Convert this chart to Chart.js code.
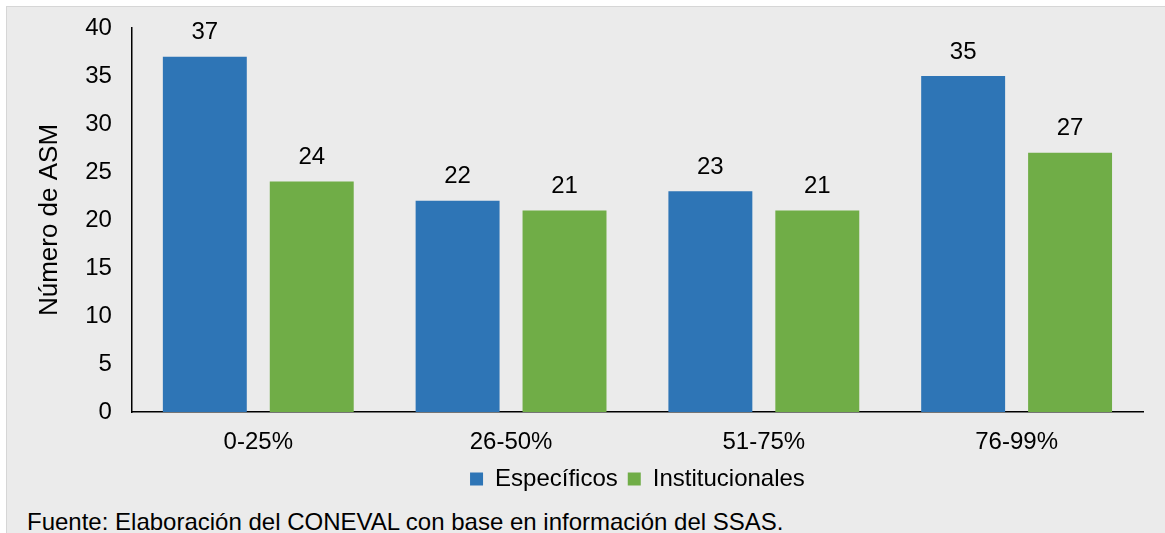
<!DOCTYPE html>
<html>
<head>
<meta charset="utf-8">
<script src="https://cdn.jsdelivr.net/npm/chart.js@4.4.1/dist/chart.umd.min.js"></script>
<style>
  html, body { margin: 0; padding: 0; background: #ffffff; }
  #frame {
    position: absolute; left: 6px; top: 6px; width: 1159px; height: 527px;
    background: #ebebeb; border-top: 1px solid #d6d6d6; border-left: 1px solid #d6d6d6;
  }
  #wrap { position: absolute; left: -7px; top: -7px; width: 1165px; height: 501px; }
  #nota {
    position: absolute; left: 20px; top: 501px; line-height: 1.15;
    font-family: "Liberation Sans", Arial, sans-serif; font-size: 24px; color: #000;
  }
</style>
</head>
<body>
<div id="frame">
  <div id="wrap"><canvas id="grafica"></canvas></div>
  <div id="nota">Fuente: Elaboración del CONEVAL con base en información del SSAS.</div>
</div>
<script>
// datos
const rangos = ['0-25%', '26-50%', '51-75%', '76-99%'];
const especificos = [37, 22, 23, 35];
const institucionales = [24, 21, 21, 27];
const ticksY = [0, 5, 10, 15, 20, 25, 30, 35, 40];

Chart.defaults.font.family = '"Liberation Sans", Arial, sans-serif';
Chart.defaults.font.size = 24;
Chart.defaults.color = '#000';

// etiquetas de valor encima de cada barra
const etiquetasBarras = {
    id: 'etiquetasBarras',
    afterDatasetsDraw(chart) {
        const ctx = chart.ctx;
        ctx.save();
        ctx.font = '24px "Liberation Sans", Arial, sans-serif';
        ctx.fillStyle = '#000';
        ctx.textAlign = 'center';
        ctx.textBaseline = 'middle';
        chart.data.datasets.forEach((ds, i) => {
            chart.getDatasetMeta(i).data.forEach((bar, j) => {
                ctx.fillText(ds.data[j], bar.x, bar.y - 24);
            });
        });
        ctx.restore();
    }
};

new Chart(document.getElementById('grafica'), {
    type: 'bar',
    data: {
        labels: rangos,
        datasets: [
            { label: 'Específicos', data: especificos, backgroundColor: '#2e75b6' },
            { label: 'Institucionales', data: institucionales, backgroundColor: '#70ad47' }
        ]
    },
    options: {
        responsive: true,
        maintainAspectRatio: false,
        animation: false,
        categoryPercentage: 0.846,
        barPercentage: 0.785,
        layout: { padding: { top: 28, right: 22, left: 34, bottom: 0 } },
        plugins: {
            legend: {
                position: 'bottom',
                fullSize: false,
                labels: { boxWidth: 13, boxHeight: 13, padding: 10 }
            },
            tooltip: { enabled: false }
        },
        scales: {
            x: {
                grid: { display: false, drawTicks: false },
                border: { display: true, color: '#000', width: 1.5 },
                ticks: { padding: 16 },
                afterFit: (axis) => { axis.height = 45; }
            },
            y: {
                min: 0,
                max: 40,
                afterBuildTicks: (axis) => { axis.ticks = ticksY.map(v => ({ value: v })); },
                // el margen superior lo fija layout.padding
                afterFit: (axis) => { axis.paddingTop = 0; },
                grid: { display: false, drawTicks: false },
                border: { display: true, color: '#000', width: 1.5 },
                ticks: { padding: 20 },
                title: { display: true, text: 'Número de ASM', font: { size: 26 }, padding: 0 }
            }
        }
    },
    plugins: [etiquetasBarras]
});
</script>
</body>
</html>
